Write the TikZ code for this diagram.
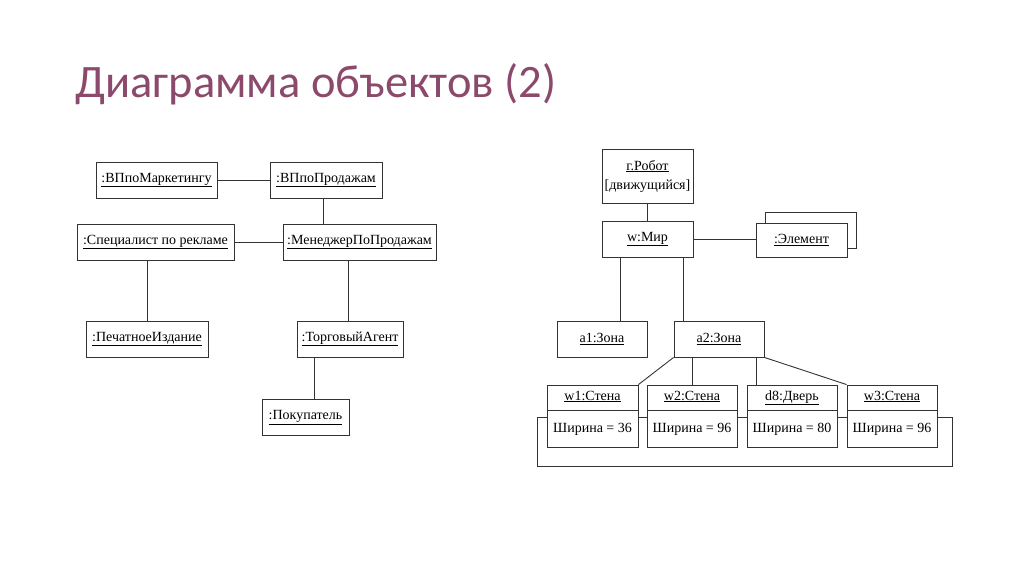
\documentclass[tikz,border=0pt]{standalone}
\usepackage{fontspec}
\setmainfont{Liberation Serif}
\newfontfamily\titlefont{Carlito}
\usetikzlibrary{positioning, calc, backgrounds}
\definecolor{titlecol}{HTML}{8B4A6C}
\definecolor{umlline}{HTML}{333333}

\begin{document}
\begin{tikzpicture}[
    x=1pt, y=-1pt,
    font=\fontsize{14}{17}\selectfont,
    link/.style={draw=umlline, line width=0.9pt},
    object/.style={
        draw=umlline,
        line width=0.9pt,
        fill=white,
        align=center,
        minimum height=36pt,
        inner sep=1pt
    },
    header/.style={object, minimum height=25pt, minimum width=#1, text height=10pt, text depth=5pt},
    header/.default=91pt,
    slot/.style={object, minimum height=37pt, minimum width=#1},
    slot/.default=91pt
]
\useasboundingbox (0,0) rectangle (1024,574);

% Title
\node[anchor=base west, inner sep=0pt, text=titlecol, font=\titlefont\fontsize{46.5}{52}\selectfont] (title) at (75,97) {Диаграмма объектов (2)};

% Left diagram
\node[object, minimum width=121pt] (mkt) at (156.5,180) {\underline{:ВПпоМаркетингу}};
\node[object, minimum width=112pt] (sales) at (326,180) {\underline{:ВПпоПродажам}};
\node[object, minimum width=157pt] (adv) at (155.5,242) {\underline{:Специалист по рекламе}};
\node[object, minimum width=153pt] (mgr) at (359.5,242) {\underline{:МенеджерПоПродажам}};
\node[object, minimum width=122pt] (press) at (147,339) {\underline{:ПечатноеИздание}};
\node[object, minimum width=106pt] (agent) at (350,339) {\underline{:ТорговыйАгент}};
\node[object, minimum width=87pt] (buyer) at (305.5,417.5) {\underline{:Покупатель}};

% Right diagram
\node[object, minimum width=91pt, minimum height=54pt] (robot) at (647.5,176) {\underline{г.Робот}\\[2pt][движущийся]};
\node[object, minimum width=91pt] (world) at (647.5,239) {\underline{w:Мир}};
\node[object, minimum width=91pt, minimum height=34pt] (elem) at (801.5,240) {\underline{:Элемент}};
\node[object, minimum width=90pt] (a1) at (602,339) {\underline{a1:Зона}};
\node[object, minimum width=90pt] (a2) at (719,339) {\underline{a2:Зона}};

% Walls
\node[header] (w1) at (592.5,397.5) {\underline{w1:Стена}};
\node[slot, below=0pt of w1] (w1b) {Ширина = 36};
\node[header=90pt] (w2) at (692,397.5) {\underline{w2:Стена}};
\node[slot=90pt, below=0pt of w2] (w2b) {Ширина = 96};
\node[header=90pt] (d8) at (792,397.5) {\underline{d8:Дверь}};
\node[slot=90pt, below=0pt of d8] (d8b) {Ширина = 80};
\node[header=90pt] (w3) at (892,397.5) {\underline{w3:Стена}};
\node[slot=90pt, below=0pt of w3] (w3b) {Ширина = 96};

\coordinate (bus) at (0,417);
\coordinate (loopL) at (537,466);
\coordinate (loopR) at (952,466);

% Edges
\draw[link] (mkt) -- (sales);
\draw[link] ([xshift=-3pt]sales.south) -- ([xshift=-36.5pt]mgr.north);
\draw[link] (adv) -- (mgr);
\draw[link] (press.north) -- (press.north |- adv.south);
\draw[link] ([xshift=-2pt]agent.north) -- ([xshift=-2pt]agent.north |- mgr.south);
\draw[link] ([xshift=8.5pt]buyer.north) -- ([xshift=-36pt]agent.south);

\draw[link] (robot) -- (world);
\draw[link] (world.east) -- (world.east -| elem.west);
\draw[link] ([xshift=19pt]world.south west) -- ([xshift=64pt]a1.north west);
\draw[link] ([xshift=82pt]world.south west) -- ([xshift=10pt]a2.north west);
\draw[link] (a2.south west) -- (w1.north east);
\draw[link] (w2.north) -- (w2.north |- a2.south);
\draw[link] ([xshift=83pt]a2.south west) -- ([xshift=10pt]d8.north west);
\draw[link] (a2.south east) -- (w3.north west);

\draw[link] (w1b.east |- bus) -- (w2b.west |- bus);
\draw[link] (w2b.east |- bus) -- (d8b.west |- bus);
\draw[link] (d8b.east |- bus) -- (w3b.west |- bus);
\draw[link] (w1b.west |- bus) -| (loopL) -- (loopR) |- (w3b.east |- bus);

% Stacked element
\begin{scope}[on background layer]
    \node[object, minimum width=91pt, minimum height=36pt] (elemback) at ($(elem)+(9,-10)$) {};
\end{scope}

\end{tikzpicture}
\end{document}
